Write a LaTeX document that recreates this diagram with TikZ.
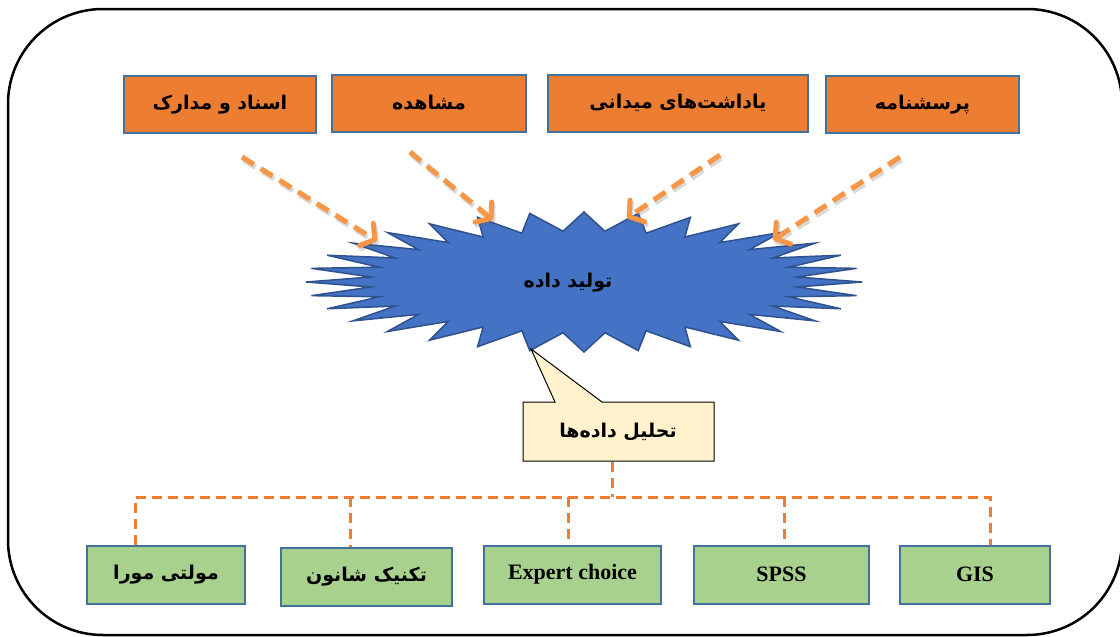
\documentclass[tikz,border=0pt]{standalone}
\usepackage{fontspec}
\setmainfont{Liberation Serif}
\newfontfamily\fafont[Script=Arabic]{DejaVu Sans}
\TeXXeTstate=1
\usepackage{tikz}
\usetikzlibrary{arrows.meta}

\definecolor{srcorange}{HTML}{ED7D31}
\definecolor{boxline}{HTML}{41719C}
\definecolor{toolgreen}{HTML}{A9D18E}
\definecolor{burstblue}{HTML}{4472C4}
\definecolor{burstline}{HTML}{2F528F}
\definecolor{flowor}{HTML}{F79646}
\definecolor{notefill}{HTML}{FFF2CC}

\newcommand{\fa}[1]{{\fafont\bfseries\beginR #1\endR}}

\tikzset{
  srcbox/.style={draw=boxline, fill=srcorange, line width=2pt, minimum height=57pt,
    inner sep=0pt, font=\fontsize{19}{22}\selectfont},
  toolbox/.style={draw=boxline, fill=toolgreen, line width=2pt, minimum height=58pt,
    inner sep=0pt, font=\fontsize{19}{22}\selectfont},
  inflow/.style={flowor, line width=5pt, dash pattern=on 14pt off 8pt,
    -{Straight Barb[length=10pt, width=26pt, round]}},
  flowshade/.style={draw=black!60, opacity=.25, transform canvas={shift={(1.5pt,-3pt)}}},
  branch/.style={srcorange, line width=3pt, dash pattern=on 10pt off 6pt},
}

\begin{document}
\begin{tikzpicture}[x=1pt, y=-1pt]
      \useasboundingbox (0,0) rectangle (1120,637);

      \draw[line width=2.5pt, rounded corners=95pt] (8,9) rectangle (1122,635);

      % sources
      \node[srcbox, minimum width=192pt] (asnad) at (220,104.5) {\fa{اسناد و مدارک}};
      \node[srcbox, minimum width=194pt] (moshahede) at (429,103) {\fa{مشاهده}};
      \node[srcbox, minimum width=260pt] (yaddasht) at (678,103) {\fa{یاداشت‌های میدانی}};
      \node[srcbox, minimum width=193pt] (porseshname) at (922.5,104.5) {\fa{پرسشنامه}};

      % burst
      \begin{scope}[shift={(584,282)}]
        \draw[fill=burstblue, draw=burstline, line width=1.5pt, line join=miter]
          (0:278 and 70)
          \foreach \k in {1,...,31} { -- ({\k*11.25-5.625}:214 and 51) -- ({\k*11.25}:278 and 70) }
          -- (-5.625:214 and 51) -- cycle;
      \end{scope}
      \node (tolid) at (568,283) {\fontsize{19}{22}\selectfont\fa{تولید داده}};

      \coordinate (s1) at (242,157);
      \coordinate (t1) at (377,241);
      \coordinate (s2) at (410,152);
      \coordinate (t2) at (493,220);
      \coordinate (s3) at (720,155);
      \coordinate (t3) at (627,218);
      \coordinate (s4) at (900,157);
      \coordinate (t4) at (773,240);
      \foreach \s/\t in {s1/t1, s2/t2, s3/t3, s4/t4} {
        \draw[inflow, flowshade] (\s) -- (\t);
        \draw[inflow] (\s) -- (\t);
      }

      % callout
      \draw[fill=notefill, line width=1pt, line join=miter]
        (523,402) -- (555,402) -- (531,349) -- (602,402) -- (714,402)
        -- (714,461) -- (523,461) -- cycle;
      \node (tahlil) at (618,432) {\fontsize{19}{22}\selectfont\fa{تحلیل داده‌ها}};
      \coordinate (notefoot) at (612,462);

      % tools
      \node[toolbox, minimum width=158pt] (multi) at (166,574.5) {\fa{مولتی مورا}};
      \node[toolbox, minimum width=171pt] (shannon) at (366.5,576.5) {\fa{تکنیک شانون}};
      \node[toolbox, minimum width=177pt, font=\fontsize{22}{26}\selectfont\bfseries] (expert) at (572.5,574.5) {Expert choice};
      \node[toolbox, minimum width=175pt, font=\fontsize{22}{26}\selectfont\bfseries] (spss) at (781.5,574.5) {SPSS};
      \node[toolbox, minimum width=150pt, font=\fontsize{22}{26}\selectfont\bfseries] (gis) at (975,574.5) {GIS};

      \coordinate (b0) at (612,497);
      \coordinate (b1) at (135,497);
      \coordinate (b2) at (350,497);
      \coordinate (b3) at (568,497);
      \coordinate (b4) at (784,497);
      \coordinate (b5) at (990,497);
      \draw[branch] (notefoot) -- (b0);
      \draw[branch] (b1 |- multi.north) -- (b1) -- (b5) -- (b5 |- gis.north);
      \draw[branch] (b2) -- (b2 |- shannon.north);
      \draw[branch] (b3) -- (b3 |- expert.north);
      \draw[branch] (b4) -- (b4 |- spss.north);

\end{tikzpicture}
\end{document}
